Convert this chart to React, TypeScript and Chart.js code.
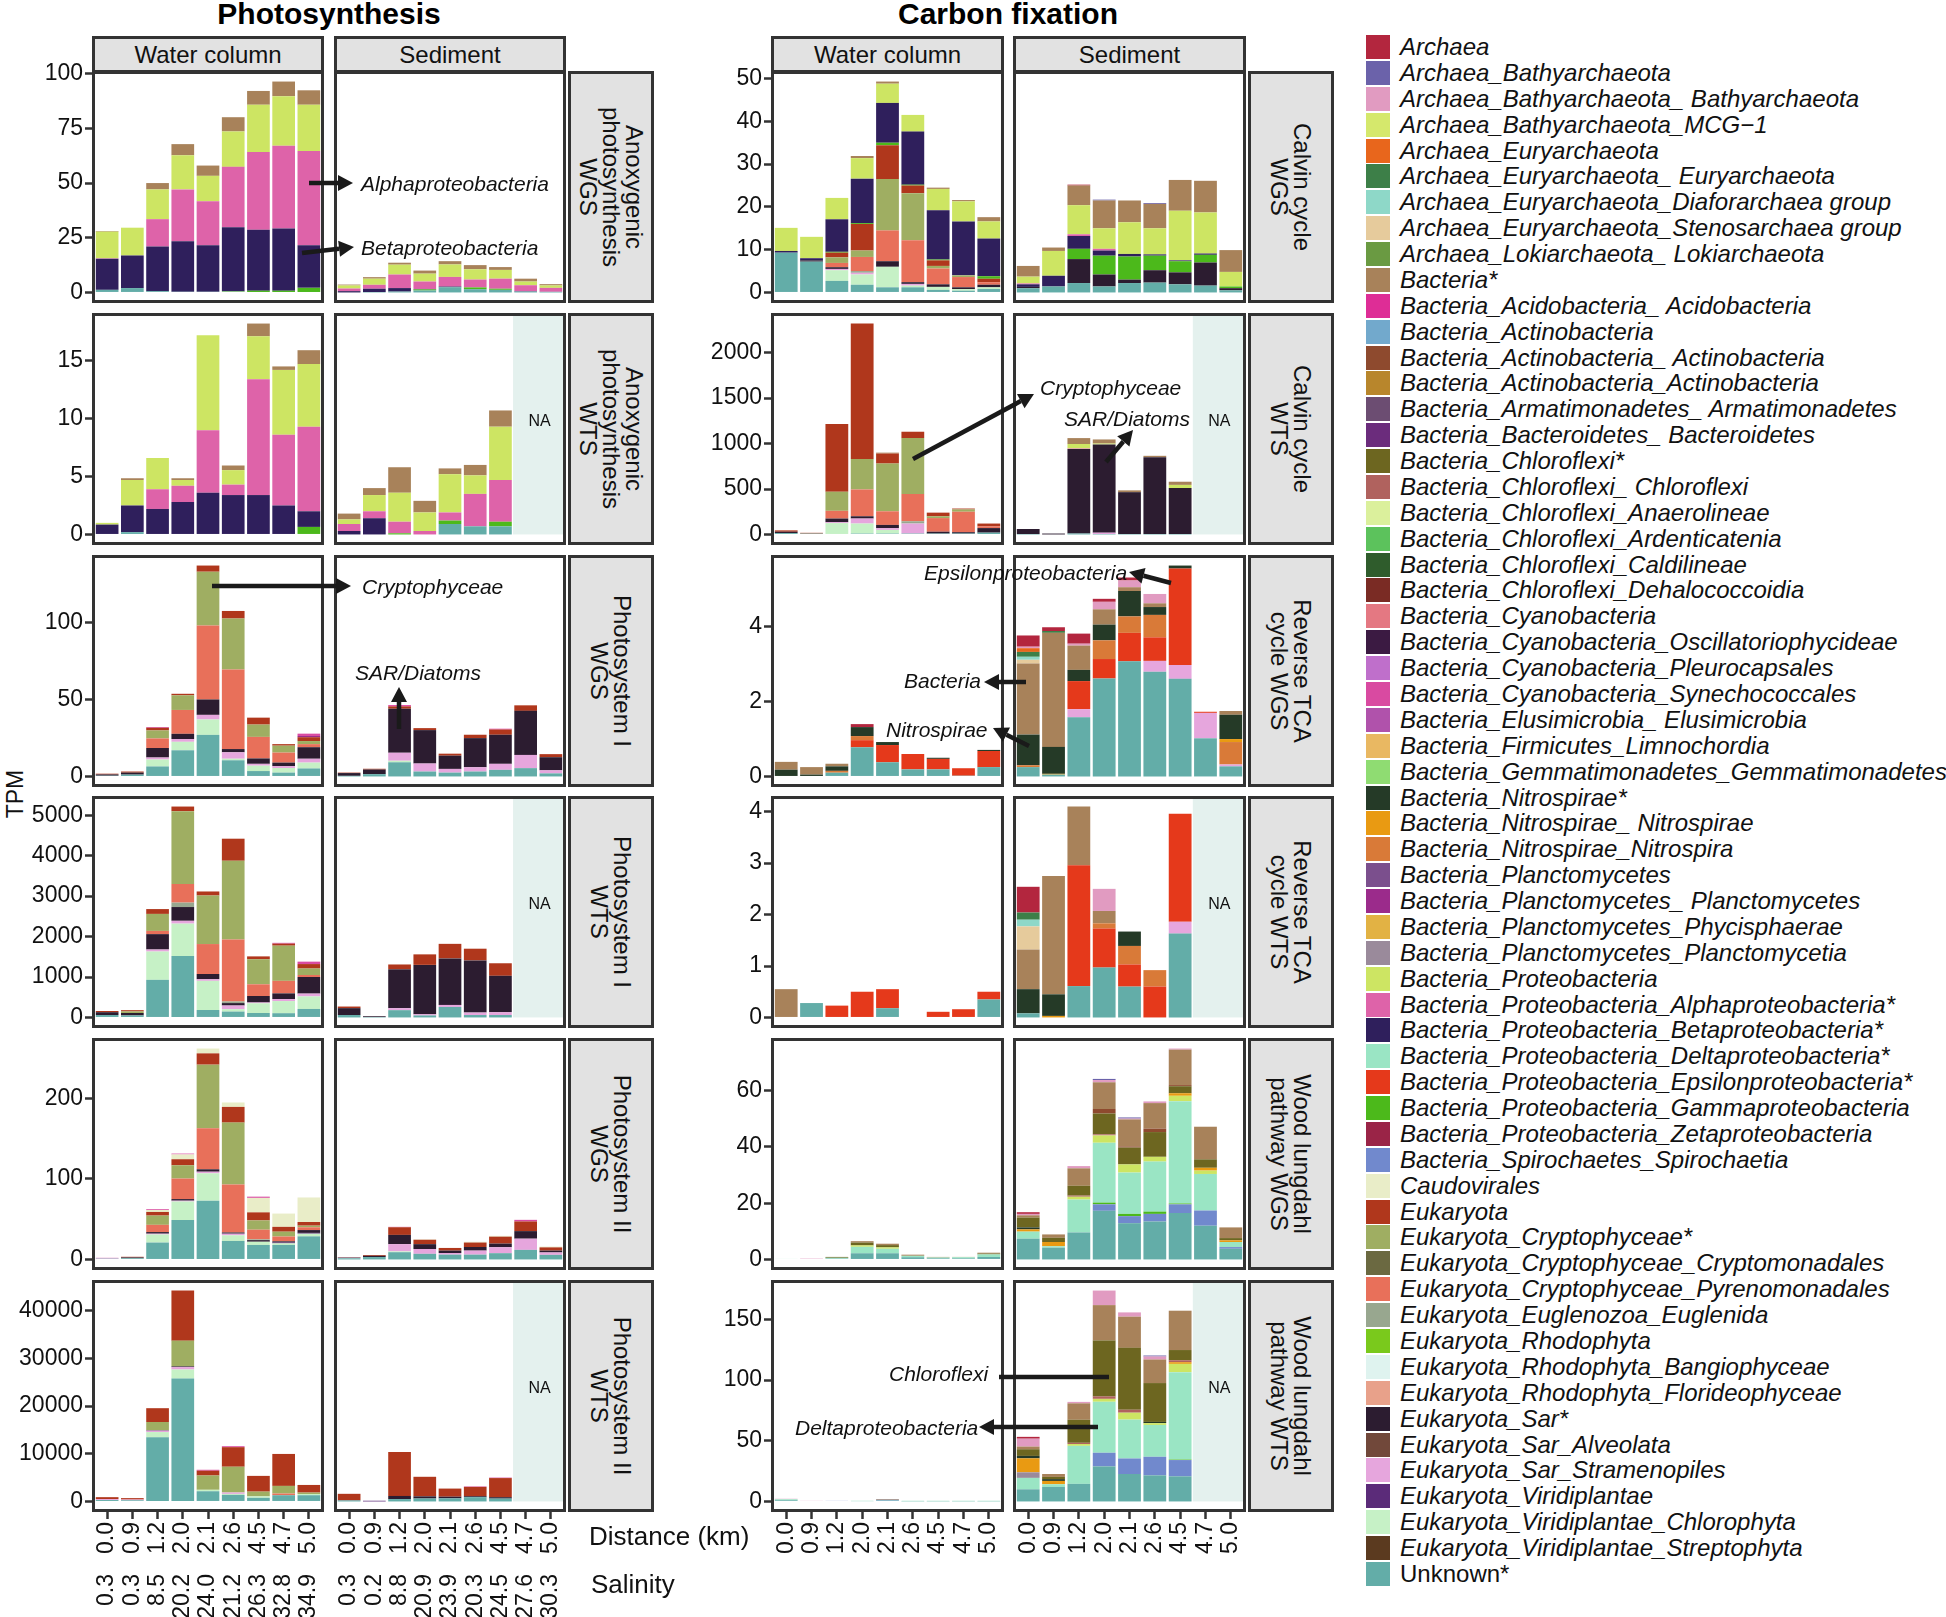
import React, { useEffect, useRef } from "react";
import { Chart, registerables } from "chart.js";

Chart.register(...registerables);

const FONT = '"Liberation Sans", Arial, Helvetica, sans-serif';
Chart.defaults.font.family = FONT;

type Series = [string, number[]];

// ---------------- categories (legend order) ----------------
const ARC = "Archaea";
const BATHY = "Archaea_Bathyarchaeota";
const BATHY2 = "Archaea_Bathyarchaeota_ Bathyarchaeota";
const MCG = "Archaea_Bathyarchaeota_MCG\u22121";
const EURY = "Archaea_Euryarchaeota";
const EURY2 = "Archaea_Euryarchaeota_ Euryarchaeota";
const DIAF = "Archaea_Euryarchaeota_Diaforarchaea group";
const STENO = "Archaea_Euryarchaeota_Stenosarchaea group";
const LOKI = "Archaea_Lokiarchaeota_ Lokiarchaeota";
const BACT = "Bacteria*";
const ACIDO = "Bacteria_Acidobacteria_ Acidobacteria";
const ACTINO = "Bacteria_Actinobacteria";
const ACTINO2 = "Bacteria_Actinobacteria_ Actinobacteria";
const ACTINO3 = "Bacteria_Actinobacteria_Actinobacteria";
const ARMA = "Bacteria_Armatimonadetes_ Armatimonadetes";
const BACTERO = "Bacteria_Bacteroidetes_ Bacteroidetes";
const CHFLX = "Bacteria_Chloroflexi*";
const CHFLX2 = "Bacteria_Chloroflexi_ Chloroflexi";
const ANAERO = "Bacteria_Chloroflexi_Anaerolineae";
const ARDENT = "Bacteria_Chloroflexi_Ardenticatenia";
const CALDI = "Bacteria_Chloroflexi_Caldilineae";
const DEHALO = "Bacteria_Chloroflexi_Dehalococcoidia";
const CYANO = "Bacteria_Cyanobacteria";
const OSCIL = "Bacteria_Cyanobacteria_Oscillatoriophycideae";
const PLEURO = "Bacteria_Cyanobacteria_Pleurocapsales";
const SYNE = "Bacteria_Cyanobacteria_Synechococcales";
const ELUSI = "Bacteria_Elusimicrobia_ Elusimicrobia";
const LIMNO = "Bacteria_Firmicutes_Limnochordia";
const GEMMA = "Bacteria_Gemmatimonadetes_Gemmatimonadetes";
const NITRO = "Bacteria_Nitrospirae*";
const NITRO2 = "Bacteria_Nitrospirae_ Nitrospirae";
const NITROSPIRA = "Bacteria_Nitrospirae_Nitrospira";
const PLANC = "Bacteria_Planctomycetes";
const PLANC2 = "Bacteria_Planctomycetes_ Planctomycetes";
const PHYCI = "Bacteria_Planctomycetes_Phycisphaerae";
const PLANCTIA = "Bacteria_Planctomycetes_Planctomycetia";
const PROT = "Bacteria_Proteobacteria";
const ALPHA = "Bacteria_Proteobacteria_Alphaproteobacteria*";
const BETA = "Bacteria_Proteobacteria_Betaproteobacteria*";
const DELTA = "Bacteria_Proteobacteria_Deltaproteobacteria*";
const EPS = "Bacteria_Proteobacteria_Epsilonproteobacteria*";
const GAMMA = "Bacteria_Proteobacteria_Gammaproteobacteria";
const ZETA = "Bacteria_Proteobacteria_Zetaproteobacteria";
const SPIRO = "Bacteria_Spirochaetes_Spirochaetia";
const CAUDO = "Caudovirales";
const EUK = "Eukaryota";
const CRYPTO = "Eukaryota_Cryptophyceae*";
const CRYPTOMON = "Eukaryota_Cryptophyceae_Cryptomonadales";
const PYRENO = "Eukaryota_Cryptophyceae_Pyrenomonadales";
const EUGL = "Eukaryota_Euglenozoa_Euglenida";
const RHODO = "Eukaryota_Rhodophyta";
const BANGIO = "Eukaryota_Rhodophyta_Bangiophyceae";
const FLORI = "Eukaryota_Rhodophyta_Florideophyceae";
const SAR = "Eukaryota_Sar*";
const ALVEO = "Eukaryota_Sar_Alveolata";
const STRAM = "Eukaryota_Sar_Stramenopiles";
const VIRID = "Eukaryota_Viridiplantae";
const CHLORO = "Eukaryota_Viridiplantae_Chlorophyta";
const STREPTO = "Eukaryota_Viridiplantae_Streptophyta";
const UNK = "Unknown*";

const CATEGORIES = [
  ARC, BATHY, BATHY2, MCG, EURY, EURY2, DIAF, STENO, LOKI, BACT, ACIDO, ACTINO, ACTINO2, ACTINO3,
  ARMA, BACTERO, CHFLX, CHFLX2, ANAERO, ARDENT, CALDI, DEHALO, CYANO, OSCIL, PLEURO, SYNE, ELUSI,
  LIMNO, GEMMA, NITRO, NITRO2, NITROSPIRA, PLANC, PLANC2, PHYCI, PLANCTIA, PROT, ALPHA, BETA, DELTA,
  EPS, GAMMA, ZETA, SPIRO, CAUDO, EUK, CRYPTO, CRYPTOMON, PYRENO, EUGL, RHODO, BANGIO, FLORI, SAR,
  ALVEO, STRAM, VIRID, CHLORO, STREPTO, UNK,
];

const COLORS = [
  "#b3263e", "#6b62aa", "#e19bc1", "#d5e86c", "#e8661c", "#3d7f48", "#8ed8c8", "#e6cb9c", "#6a9a42",
  "#a8825a", "#de2d96", "#72a9cc", "#8e4a2e", "#b8862c", "#6c4d72", "#6b2c7c", "#6d6620", "#b0625e",
  "#dbf09c", "#5cc25c", "#2f5c2c", "#7a2b24", "#e47882", "#3b1a42", "#bf6fcb", "#d94aa1", "#b052ab",
  "#e9b862", "#8fdc72", "#253a27", "#e99a12", "#d97a38", "#7b4f8d", "#9b2b8b", "#e2b244", "#9a8a9b",
  "#cde563", "#de63a9", "#2f1f5c", "#9ae5c4", "#e5391b", "#4cb91b", "#9a2447", "#7189cd", "#e9edc8",
  "#b0371c", "#9fae62", "#6b6941", "#e8705a", "#98a78f", "#7ac91c", "#dff3ef", "#e8a18a", "#2c1c30",
  "#71483a", "#e6a6dd", "#5b2b79", "#c6f1c6", "#5b3a1f", "#63ada8",
];

// ---------------- axis labels ----------------
const DISTANCE = ["0.0", "0.9", "1.2", "2.0", "2.1", "2.6", "4.5", "4.7", "5.0"];
const SALINITY_WATER = ["0.3", "0.3", "8.5", "20.2", "24.0", "21.2", "26.3", "32.8", "34.9"];
const SALINITY_SEDIMENT = ["0.3", "0.2", "8.8", "20.9", "23.9", "20.3", "24.5", "27.6", "30.3"];

const TICKS_ANOX_WGS = [0, 25, 50, 75, 100];
const TICKS_ANOX_WTS = [0, 5, 10, 15];
const TICKS_PS1_WGS = [0, 50, 100];
const TICKS_PS1_WTS = [0, 1000, 2000, 3000, 4000, 5000];
const TICKS_PS2_WGS = [0, 100, 200];
const TICKS_PS2_WTS = [0, 10000, 20000, 30000, 40000];
const TICKS_CALVIN_WGS = [0, 10, 20, 30, 40, 50];
const TICKS_CALVIN_WTS = [0, 500, 1000, 1500, 2000];
const TICKS_RTCA_WGS = [0, 2, 4];
const TICKS_RTCA_WTS = [0, 1, 2, 3, 4];
const TICKS_WL_WGS = [0, 20, 40, 60];
const TICKS_WL_WTS = [0, 50, 100, 150];

// ---------------- Photosynthesis ----------------
const anoxWgsWater: Series[] = [
  [UNK, [1.2, 2.0, 0.6, 0.3, 0.3, 0.3, 0.2, 0.2, 0.2]],
  [GAMMA, [0, 0, 0, 0, 0, 0.2, 0.6, 0.6, 1.9]],
  [BETA, [14.2, 14.9, 20.4, 23.1, 21.3, 29.3, 27.9, 28.4, 19.5]],
  [ALPHA, [0.2, 0, 12.5, 23.7, 20.1, 27.6, 35.5, 37.9, 43.1]],
  [PROT, [12.2, 12.7, 13.6, 15.6, 11.6, 16.2, 21.6, 22.6, 21.1]],
  [BACT, [0.3, 0, 2.9, 5.1, 4.7, 6.5, 6.3, 6.7, 6.6]],
];
const anoxWgsSed: Series[] = [
  [UNK, [0, 0.2, 0.4, 0.9, 2.4, 1.5, 1.2, 0.4, 0.3]],
  [GAMMA, [0, 0, 0, 0.5, 0, 0.8, 0.5, 0, 0]],
  [BETA, [0.6, 1.5, 1.6, 0.2, 0.3, 0, 0, 0.2, 0]],
  [ALPHA, [1.2, 1.8, 6.2, 3.4, 4.4, 3.6, 4.6, 2.7, 1.8]],
  [PROT, [1.4, 2.8, 4.5, 3.6, 5.7, 4.7, 4.0, 1.7, 1.1]],
  [BACT, [0.4, 0.7, 0.9, 1.4, 1.5, 1.9, 1.3, 1.3, 0.6]],
];
const anoxWtsWater: Series[] = [
  [UNK, [0, 0.2, 0, 0, 0, 0, 0, 0, 0]],
  [GAMMA, [0, 0, 0, 0, 0, 0, 0, 0, 0.65]],
  [BETA, [0.85, 2.3, 2.2, 2.8, 3.6, 3.4, 3.4, 2.5, 1.35]],
  [ALPHA, [0, 0, 1.7, 1.4, 5.4, 0.9, 10.0, 6.1, 7.3]],
  [PROT, [0.15, 2.2, 2.7, 0.5, 8.2, 1.25, 3.7, 5.6, 5.4]],
  [BACT, [0, 0.15, 0, 0.15, 0, 0.4, 1.1, 0.3, 1.2]],
];
const anoxWtsSed: Series[] = [
  [UNK, [0, 0, 0, 0, 0.9, 0.7, 0.7]],
  [GAMMA, [0, 0, 0.1, 0, 0.3, 0, 0.4]],
  [BETA, [0.3, 1.4, 0, 0, 0, 0, 0]],
  [ALPHA, [0.6, 0.6, 1.0, 0.3, 0.7, 2.8, 3.6]],
  [PROT, [0.4, 1.4, 2.5, 1.6, 3.3, 1.6, 4.6]],
  [BACT, [0.5, 0.6, 2.2, 1.0, 0.5, 0.9, 1.4]],
];
const ps1WgsWater: Series[] = [
  [UNK, [0.5, 1.2, 6.5, 17, 27, 10.5, 3.5, 2.5, 5.2]],
  [CHLORO, [0, 0, 4.5, 5.5, 10, 1, 3.5, 3, 3.8]],
  [STRAM, [0, 0, 1.3, 1.8, 3, 4.2, 1.2, 1.2, 2.5]],
  [SAR, [0.8, 1.3, 6.2, 3.4, 10, 2.1, 3.5, 2.3, 7.5]],
  [PYRENO, [0, 0, 6.2, 15.5, 48, 51.7, 14, 6.5, 2]],
  [CRYPTO, [0, 0, 5.2, 9.5, 35, 33.1, 8, 4.5, 2]],
  [EUK, [0.5, 0.7, 1.7, 1.0, 4, 4.9, 4.5, 1, 2.5]],
  [SYNE, [0, 0, 0.5, 0, 0, 0, 0, 0, 1.5]],
  [PLANC2, [0, 0, 0, 0, 0, 0, 0, 0, 0.8]],
];
const ps1WgsSed: Series[] = [
  [UNK, [0.4, 1.5, 9.2, 3.2, 2.5, 3.2, 4.3, 5.4, 2]],
  [CHLORO, [0, 0, 1, 0, 0, 0, 0, 0, 0]],
  [STRAM, [0, 0, 5.2, 5.2, 2.4, 2.8, 3.9, 8.6, 2]],
  [SAR, [1.8, 3, 28.6, 21.7, 8.6, 18.9, 18.9, 28.6, 8.5]],
  [EUK, [0.3, 0.5, 1.5, 1.3, 1.3, 2.2, 3.4, 3.6, 2]],
  [ACIDO, [0, 0, 0.8, 0, 0, 0, 0.5, 0, 0]],
];
const ps1WtsWater: Series[] = [
  [UNK, [60, 50, 930, 1520, 185, 145, 110, 105, 210]],
  [CHLORO, [0, 0, 700, 800, 720, 60, 240, 300, 310]],
  [STRAM, [0, 0, 50, 70, 40, 90, 20, 50, 70]],
  [SAR, [70, 60, 380, 340, 130, 60, 160, 140, 410]],
  [EUGL, [0, 0, 0, 110, 0, 40, 0, 0, 0]],
  [PYRENO, [0, 0, 80, 460, 740, 1530, 290, 310, 50]],
  [CRYPTO, [0, 40, 420, 1800, 1200, 1950, 620, 870, 160]],
  [EUK, [30, 30, 120, 115, 100, 545, 70, 50, 110]],
  [SYNE, [0, 0, 0, 0, 0, 0, 0, 20, 60]],
];
const ps1WtsSed: Series[] = [
  [UNK, [60, 10, 180, 50, 260, 60, 60]],
  [STRAM, [0, 0, 50, 30, 50, 60, 70]],
  [SAR, [170, 20, 960, 1220, 1150, 1290, 900]],
  [EUK, [40, 0, 120, 260, 360, 290, 310]],
];
const ps2WgsWater: Series[] = [
  [UNK, [1, 1.5, 21, 49, 73, 23, 18, 18, 28.7]],
  [CHLORO, [0, 0, 10, 23, 34, 7, 4, 2, 3.3]],
  [STRAM, [0.5, 0, 1, 1, 2, 2, 0, 0, 0]],
  [SAR, [0, 1, 2, 2, 3, 1.5, 2, 1.5, 3.5]],
  [EUGL, [0, 0, 0, 0, 0, 0, 1, 0, 0]],
  [PYRENO, [0, 0, 9, 25.5, 51, 59.5, 12, 6, 3.5]],
  [CRYPTO, [0, 0, 11.5, 16.5, 79, 77, 11.5, 6, 2]],
  [EUK, [0, 0.8, 4.5, 7.5, 14, 19.5, 10, 6, 4.5]],
  [CAUDO, [0, 0, 2.5, 6, 6, 5.5, 18, 16.5, 30.5]],
  [VIRID, [0, 0, 0, 0, 0, 0, 0, 1, 1]],
  [SYNE, [0.5, 0, 1, 1, 0, 0, 1.5, 0, 0]],
];
const ps2WgsSed: Series[] = [
  [UNK, [1.5, 3, 9, 7, 6, 6, 7.8, 11.9, 5.7]],
  [CHLORO, [0, 0, 1, 0, 0, 0, 0, 0, 0]],
  [STRAM, [0.5, 0, 9, 6, 2, 5, 7.4, 13.9, 3]],
  [SAR, [0.5, 1.5, 11.5, 6, 3, 4.5, 4.5, 9.4, 2.3]],
  [EUK, [0.4, 1, 9.5, 5.5, 3.3, 5.5, 8.6, 12, 4]],
  [CAUDO, [0, 0, 0, 0.5, 0, 1, 1, 0, 1]],
  [SYNE, [0, 0, 0.5, 0, 0, 0, 0, 2, 0]],
];
const ps2WtsWater: Series[] = [
  [UNK, [300, 250, 13450, 25760, 2140, 1380, 760, 1310, 1310]],
  [CHLORO, [0, 0, 1100, 1900, 300, 200, 300, 0, 250]],
  [STRAM, [200, 150, 300, 500, 0, 300, 0, 0, 0]],
  [SAR, [0, 0, 100, 150, 0, 0, 0, 0, 0]],
  [PYRENO, [0, 0, 0, 0, 0, 0, 0, 350, 0]],
  [CRYPTO, [0, 0, 1700, 5400, 3000, 5400, 1000, 1600, 300]],
  [EUK, [400, 300, 2900, 10500, 1000, 4100, 3300, 6700, 1600]],
  [SYNE, [0, 0, 0, 0, 200, 200, 0, 0, 0]],
];
const ps2WtsSed: Series[] = [
  [UNK, [200, 0, 500, 620, 650, 900, 600]],
  [VIRID, [0, 150, 0, 0, 0, 0, 0]],
  [SAR, [50, 0, 650, 450, 350, 200, 300]],
  [EUK, [1350, 0, 9200, 4100, 1700, 1950, 4000]],
  [SYNE, [0, 0, 0, 0, 0, 100, 100]],
];

// ---------------- Carbon fixation ----------------
const calvinWgsWater: Series[] = [
  [UNK, [9.3, 7.2, 2.7, 1.8, 1.2, 1.2, 0.6, 0.4, 0.8]],
  [CHLORO, [0, 0, 2.5, 2.4, 4.8, 0.4, 0.7, 0.4, 0.4]],
  [STRAM, [0, 0, 0.3, 0.4, 0, 0.4, 0, 0, 0]],
  [SAR, [0, 0.3, 0.4, 0, 1.3, 0.4, 0.6, 0.4, 0.6]],
  [EUGL, [0, 0, 0, 0.4, 0, 0, 0, 0, 0]],
  [PYRENO, [0, 0, 1, 3.3, 7.2, 9.8, 3.7, 2.4, 0.6]],
  [CRYPTO, [0, 0, 1.3, 1.5, 12, 11, 0.6, 0.4, 0]],
  [EUK, [0, 0, 1.1, 6.2, 7.9, 1.8, 1.3, 0, 0.8]],
  [GAMMA, [0, 0, 0.2, 0.2, 0.6, 0.2, 0.2, 0, 0.6]],
  [BETA, [0.4, 0.5, 7.6, 10.4, 9.3, 12.4, 11.5, 12.6, 8.8]],
  [PROT, [5.4, 5.0, 5, 4.8, 4.5, 3.9, 5, 4.7, 4]],
  [BACT, [0, 0, 0, 0.5, 0.5, 0, 0.3, 0.3, 1]],
];
const calvinWgsSed: Series[] = [
  [UNK, [1.0, 1.4, 2.2, 1.4, 2.2, 2.3, 1.9, 1.6, 0.5]],
  [SAR, [0.3, 0, 5.6, 2.8, 0.8, 2.9, 2.8, 5.4, 0.5]],
  [GAMMA, [0, 0, 2.4, 4.4, 5.4, 3.4, 2.6, 1.8, 0.4]],
  [BETA, [0.6, 2.5, 3.0, 1.2, 0.6, 0.3, 0.2, 0.3, 0]],
  [ALPHA, [0.2, 0, 0.4, 0.4, 0, 0, 0, 0, 0]],
  [PROT, [1.6, 5.8, 6.8, 4.8, 7.4, 6.1, 11.6, 9.6, 3.4]],
  [BACT, [2.5, 0.8, 4.6, 6.5, 5.1, 5.7, 7.2, 7.4, 5.1]],
  [BATHY, [0, 0, 0, 0.2, 0, 0.2, 0, 0, 0]],
  [ARC, [0, 0, 0.2, 0, 0, 0, 0, 0, 0]],
];
const calvinWtsWater: Series[] = [
  [UNK, [15, 10, 0, 10, 10, 10, 10, 10, 20]],
  [CHLORO, [0, 0, 125, 110, 40, 0, 0, 0, 0]],
  [STRAM, [0, 0, 10, 55, 20, 110, 0, 0, 0]],
  [SAR, [15, 0, 40, 25, 35, 0, 20, 15, 50]],
  [EUGL, [0, 0, 0, 0, 0, 25, 0, 0, 0]],
  [PYRENO, [0, 0, 85, 295, 150, 300, 150, 225, 20]],
  [CRYPTO, [0, 0, 210, 335, 525, 615, 20, 25, 0]],
  [EUK, [15, 8, 745, 1490, 110, 70, 40, 10, 30]],
  [BACT, [0, 0, 0, 0, 10, 0, 0, 0, 0]],
];
const calvinWtsSed: Series[] = [
  [UNK, [5, 0, 10, 5, 5, 5, 5]],
  [STRAM, [0, 0, 0, 15, 0, 0, 0]],
  [SAR, [55, 10, 930, 970, 460, 845, 505]],
  [ALPHA, [0, 0, 5, 0, 0, 0, 0]],
  [PROT, [0, 0, 50, 10, 0, 0, 35]],
  [BACT, [0, 0, 65, 45, 20, 15, 35]],
];
const rtcaWgsWater: Series[] = [
  [UNK, [0, 0, 0.1, 0.78, 0.38, 0.19, 0.19, 0.02, 0.25]],
  [EPS, [0, 0, 0, 0.19, 0.46, 0.41, 0.28, 0.2, 0.43]],
  [NITROSPIRA, [0, 0, 0.05, 0.11, 0, 0, 0, 0, 0]],
  [NITRO, [0.18, 0.05, 0.12, 0.24, 0.08, 0, 0.03, 0, 0.03]],
  [BACT, [0.21, 0.2, 0.07, 0, 0, 0, 0, 0, 0]],
  [ARC, [0, 0, 0, 0.08, 0, 0, 0, 0, 0]],
];
const rtcaWgsSed: Series[] = [
  [UNK, [0.25, 0.05, 1.58, 2.62, 3.08, 2.8, 2.61, 1.02, 0.27]],
  [STRAM, [0, 0, 0.22, 0, 0, 0.29, 0.37, 0.68, 0.05]],
  [EPS, [0, 0, 0.75, 0.52, 0.76, 0.63, 2.58, 0.03, 0]],
  [NITROSPIRA, [0.05, 0, 0, 0.5, 0.44, 0.6, 0, 0, 0.6]],
  [NITRO2, [0, 0.02, 0, 0, 0, 0, 0, 0, 0.08]],
  [NITRO, [0.82, 0.72, 0.3, 0.42, 0.68, 0.21, 0.08, 0, 0.65]],
  [BACT, [1.9, 3.05, 0.65, 0.41, 0.1, 0.1, 0, 0, 0.1]],
  [STENO, [0.1, 0, 0, 0, 0, 0, 0, 0, 0]],
  [DIAF, [0.08, 0, 0, 0, 0, 0, 0, 0, 0]],
  [EURY2, [0.13, 0.05, 0, 0, 0, 0, 0, 0, 0]],
  [EURY, [0.1, 0, 0, 0, 0, 0, 0, 0, 0]],
  [BATHY2, [0.04, 0, 0.05, 0.2, 0.18, 0.25, 0, 0, 0]],
  [ARC, [0.3, 0.1, 0.27, 0.08, 0.08, 0, 0, 0, 0]],
];
const rtcaWtsWater: Series[] = [
  [UNK, [0, 0.28, 0, 0, 0.18, 0.01, 0, 0, 0.35]],
  [EPS, [0, 0, 0.23, 0.5, 0.37, 0, 0.11, 0.16, 0.15]],
  [BACT, [0.55, 0, 0, 0, 0, 0, 0, 0, 0]],
];
const rtcaWtsSed: Series[] = [
  [UNK, [0.08, 0, 0.61, 0.97, 0.6, 0, 1.63]],
  [STRAM, [0, 0, 0, 0, 0, 0, 0.23]],
  [EPS, [0, 0, 2.35, 0.76, 0.43, 0.6, 2.1]],
  [NITROSPIRA, [0, 0, 0, 0.1, 0.36, 0.32, 0]],
  [NITRO2, [0, 0.03, 0, 0, 0, 0, 0]],
  [NITRO, [0.47, 0.42, 0, 0, 0.28, 0, 0]],
  [BACT, [0.77, 2.3, 1.14, 0.24, 0, 0, 0]],
  [STENO, [0.45, 0, 0, 0, 0, 0, 0]],
  [DIAF, [0.13, 0, 0, 0, 0, 0, 0]],
  [EURY2, [0.14, 0, 0, 0, 0, 0, 0]],
  [BATHY2, [0, 0, 0, 0.43, 0, 0, 0]],
  [ARC, [0.5, 0, 0, 0, 0, 0, 0]],
];
const wlWgsWater: Series[] = [
  [UNK, [0, 0, 0.3, 2.2, 2.2, 0.8, 0.4, 0.4, 0.9]],
  [DELTA, [0.2, 0, 0.3, 2.3, 1.6, 0.5, 0.3, 0.4, 0.9]],
  [PROT, [0, 0, 0, 0.5, 0.5, 0, 0, 0, 0]],
  [CHFLX, [0, 0, 0.3, 1, 0.8, 0, 0, 0, 0.3]],
  [BACT, [0, 0, 0, 0.5, 0.5, 0.4, 0.2, 0.1, 0.3]],
  [BATHY2, [0, 0.3, 0, 0, 0, 0, 0, 0, 0]],
];
const wlWgsSed: Series[] = [
  [UNK, [7.4, 4.2, 9.6, 17.3, 12.9, 13.5, 16.5, 12, 3.8]],
  [SPIRO, [0, 0, 0, 2.3, 2.5, 2.7, 3.1, 5.4, 0.6]],
  [GAMMA, [0, 0, 0, 0.6, 0.8, 0.8, 0.3, 0, 0]],
  [DELTA, [2.5, 0.5, 11.7, 21.3, 14.7, 17.8, 36.4, 13, 1.8]],
  [PROT, [0, 0, 1, 2.6, 2.9, 1.7, 1.9, 1.2, 0]],
  [NITRO2, [0.8, 1.5, 0, 0, 0, 0, 0.9, 1, 0.6]],
  [NITRO, [0.7, 0, 0, 0, 0, 0, 0, 0, 0]],
  [CHFLX2, [0, 0, 0.4, 0.4, 0, 0, 0, 0, 0]],
  [CHFLX, [3.5, 1.5, 3.5, 7.4, 6, 8.8, 2.5, 3, 0.8]],
  [ACTINO2, [0, 0, 0, 1.6, 0.4, 1.2, 0.4, 0, 0]],
  [BACT, [0.8, 1.2, 6.2, 9.5, 9.6, 9.1, 12.6, 11.6, 3.8]],
  [BATHY2, [0.5, 0, 0.8, 0.8, 0.3, 0.6, 0.4, 0, 0]],
  [BATHY, [0, 0, 0, 0.4, 0.4, 0, 0, 0, 0]],
  [ARC, [0.6, 0, 0, 0, 0, 0, 0, 0, 0]],
];
const wlWtsWater: Series[] = [
  [UNK, [1, 0, 0, 0.3, 0.8, 0.2, 0.2, 0.2, 0.2]],
  [SPIRO, [0, 0, 0.5, 0, 0.6, 0, 0, 0, 0]],
  [DELTA, [0.8, 0.4, 0, 0.2, 0, 0.3, 0.3, 0.3, 0.3]],
  [BACT, [0, 0, 0, 0, 0.6, 0, 0, 0, 0]],
  [BATHY2, [0.4, 0.1, 0, 0, 0, 0, 0, 0, 0]],
];
const wlWtsSed: Series[] = [
  [UNK, [10, 12, 14.5, 28.9, 22.6, 21.5, 20.7]],
  [SPIRO, [0, 0, 0, 11.2, 12.8, 15.3, 13.4]],
  [GAMMA, [0, 0, 0, 0, 0, 0, 0.4]],
  [DELTA, [9.4, 2.2, 31.3, 42, 32, 26.2, 72]],
  [PROT, [0, 0, 1.5, 2.4, 5.7, 1.5, 6.8]],
  [PLANCTIA, [4.6, 0, 0, 0, 0, 0, 0]],
  [NITRO2, [11.5, 2.7, 0, 0, 0, 0, 1.4]],
  [NITRO, [2.0, 1.5, 0, 0, 0, 1, 0]],
  [CHFLX2, [0, 0, 1, 2, 2.4, 0, 1.6]],
  [CHFLX, [5.5, 1.8, 19, 46, 51, 32, 8.4]],
  [BACT, [2.2, 2.4, 13.5, 29.2, 25.7, 19.4, 32.4]],
  [BATHY2, [6.5, 0, 1.2, 12, 3.5, 2.5, 0]],
  [BATHY, [0, 0, 0, 0, 0, 0.8, 0]],
  [ARC, [1.5, 0, 0, 0, 0, 0, 0]],
];

// ---------------- layout ----------------
const ROW_TOPS = [71, 313, 555, 796, 1038, 1280];
const ROW_H = 232;
const MARGIN_TOP = 16;
const X_AXIS_H = 55;
const X2_AXIS_H = 51;
const BORDER = "#333333";
const STRIP_BG = "#e2e2e2";

type Row = { label: string[]; water: Series[]; sed: Series[]; ticks: number[]; na: boolean };
type Group = {
  title: string; titleX: number; waterX: number; sedX: number; panelW: number; stripX: number;
  axisW: number; salinity: boolean; rows: Row[];
};

const GROUPS: Group[] = [
  {
    title: "Photosynthesis", titleX: 329, waterX: 92, sedX: 334, panelW: 232, stripX: 568, axisW: 80, salinity: true,
    rows: [
      { label: ["Anoxygenic", "photosynthesis", "WGS"], water: anoxWgsWater, sed: anoxWgsSed, ticks: TICKS_ANOX_WGS, na: false },
      { label: ["Anoxygenic", "photosynthesis", "WTS"], water: anoxWtsWater, sed: anoxWtsSed, ticks: TICKS_ANOX_WTS, na: true },
      { label: ["Photosystem I", "WGS"], water: ps1WgsWater, sed: ps1WgsSed, ticks: TICKS_PS1_WGS, na: false },
      { label: ["Photosystem I", "WTS"], water: ps1WtsWater, sed: ps1WtsSed, ticks: TICKS_PS1_WTS, na: true },
      { label: ["Photosystem II", "WGS"], water: ps2WgsWater, sed: ps2WgsSed, ticks: TICKS_PS2_WGS, na: false },
      { label: ["Photosystem II", "WTS"], water: ps2WtsWater, sed: ps2WtsSed, ticks: TICKS_PS2_WTS, na: true },
    ],
  },
  {
    title: "Carbon fixation", titleX: 1008, waterX: 771, sedX: 1013, panelW: 233, stripX: 1248, axisW: 80, salinity: false,
    rows: [
      { label: ["Calvin cycle", "WGS"], water: calvinWgsWater, sed: calvinWgsSed, ticks: TICKS_CALVIN_WGS, na: false },
      { label: ["Calvin cycle", "WTS"], water: calvinWtsWater, sed: calvinWtsSed, ticks: TICKS_CALVIN_WTS, na: true },
      { label: ["Reverse TCA", "cycle WGS"], water: rtcaWgsWater, sed: rtcaWgsSed, ticks: TICKS_RTCA_WGS, na: false },
      { label: ["Reverse TCA", "cycle WTS"], water: rtcaWtsWater, sed: rtcaWtsSed, ticks: TICKS_RTCA_WTS, na: true },
      { label: ["Wood lungdahl", "pathway WGS"], water: wlWgsWater, sed: wlWgsSed, ticks: TICKS_WL_WGS, na: false },
      { label: ["Wood lungdahl", "pathway WTS"], water: wlWtsWater, sed: wlWtsSed, ticks: TICKS_WL_WTS, na: true },
    ],
  },
];

type Ann = { x1: number; y1: number; x2: number; y2: number; head: boolean; text: string; tx: number; ty: number };
const ANNOTATIONS: Ann[] = [
  { x1: 309, y1: 183, x2: 353, y2: 183, head: true, text: "Alphaproteobacteria", tx: 361, ty: 183 },
  { x1: 302, y1: 253, x2: 354, y2: 247, head: true, text: "Betaproteobacteria", tx: 361, ty: 247 },
  { x1: 212, y1: 586, x2: 351, y2: 586, head: true, text: "Cryptophyceae", tx: 362, ty: 586 },
  { x1: 399, y1: 729, x2: 399, y2: 687, head: true, text: "SAR/Diatoms", tx: 355, ty: 672 },
  { x1: 913, y1: 459, x2: 1034, y2: 394, head: true, text: "Cryptophyceae", tx: 1040, ty: 387 },
  { x1: 1106, y1: 462, x2: 1133, y2: 430, head: true, text: "SAR/Diatoms", tx: 1064, ty: 418 },
  { x1: 1171, y1: 583, x2: 1129, y2: 572, head: true, text: "Epsilonproteobacteria", tx: 924, ty: 572 },
  { x1: 1026, y1: 682, x2: 984, y2: 682, head: true, text: "Bacteria", tx: 904, ty: 680 },
  { x1: 1029, y1: 746, x2: 993, y2: 728, head: true, text: "Nitrospirae", tx: 886, ty: 729 },
  { x1: 999, y1: 1377, x2: 1109, y2: 1377, head: false, text: "Chloroflexi", tx: 889, ty: 1373 },
  { x1: 1098, y1: 1427, x2: 979, y2: 1427, head: true, text: "Deltaproteobacteria", tx: 795, ty: 1427 },
];

function stackMax(series: Series[]): number {
  let m = 0;
  for (let i = 0; i < 9; i++) {
    let s = 0;
    for (const [, v] of series) s += v[i] || 0;
    m = Math.max(m, s);
  }
  return m;
}

type PanelProps = {
  left: number; top: number; width: number; height: number; series: Series[];
  yMin: number; yMax: number; yTicks: number[] | null; axisW: number;
  xLabels: string[] | null; x2Labels: string[] | null; na: boolean;
};

function Panel(p: PanelProps) {
  const ref = useRef<HTMLCanvasElement>(null);
  const showY = !!p.yTicks;
  const showX = !!p.xLabels;
  const cLeft = p.left - (showY ? p.axisW : 0);
  const cW = p.width + (showY ? p.axisW : 0);
  const cTop = p.top - MARGIN_TOP;
  const cH = MARGIN_TOP + p.height + (showX ? X_AXIS_H : 0) + (p.x2Labels ? X2_AXIS_H : 0);

  useEffect(() => {
    const canvas = ref.current;
    if (!canvas) return;
    const ordered = [...p.series].sort((a, b) => CATEGORIES.indexOf(b[0]) - CATEGORIES.indexOf(a[0]));
    const datasets = ordered.map(([name, vals]) => ({
      label: name,
      data: vals.map((v, i) => ({ x: i, y: v })).filter((d) => d.y > 0),
      backgroundColor: COLORS[CATEGORIES.indexOf(name)],
      borderWidth: 0,
      barPercentage: 0.9,
      categoryPercentage: 1.0,
    }));
    const idxTicks = () => DISTANCE.map((_, i) => ({ value: i }));
    const tickFont = { family: FONT, size: 23 };
    const scales: any = {
      x: {
        type: "linear", min: -0.6, max: 8.6, stacked: true, offset: false, display: showX,
        afterBuildTicks: (ax: any) => { ax.ticks = idxTicks(); },
        afterFit: (ax: any) => {
          ax.paddingLeft = 0; ax.paddingRight = 0;
          ax.height = showX ? X_AXIS_H : 0;
        },
        grid: { offset: false, drawOnChartArea: false, drawTicks: true, tickLength: 7, tickColor: BORDER, tickWidth: 2.5 },
        border: { display: false },
        ticks: {
          autoSkip: false, minRotation: 90, maxRotation: 90, padding: 3, color: "#111", font: tickFont,
          callback: (_v: any, i: number) => (p.xLabels ? p.xLabels[i] : ""),
        },
      },
      y: {
        type: "linear", min: p.yMin, max: p.yMax, stacked: true, display: showY,
        afterBuildTicks: (ax: any) => { if (p.yTicks) ax.ticks = p.yTicks.map((v) => ({ value: v })); },
        afterFit: (ax: any) => {
          ax.paddingTop = 0; ax.paddingBottom = 0;
          ax.width = showY ? p.axisW : 0;
        },
        grid: { drawOnChartArea: false, drawTicks: true, tickLength: 7, tickColor: BORDER, tickWidth: 2.5 },
        border: { display: false },
        ticks: { padding: 2, color: "#111", font: tickFont, callback: (v: any) => String(v) },
      },
    };
    if (p.x2Labels) {
      scales.x2 = {
        type: "linear", position: "bottom", axis: "x", min: -0.6, max: 8.6, weight: 1, display: true, offset: false,
        afterBuildTicks: (ax: any) => { ax.ticks = idxTicks(); },
        afterFit: (ax: any) => { ax.height = X2_AXIS_H; ax.paddingLeft = 0; ax.paddingRight = 0; },
        grid: { display: false, drawTicks: false, drawOnChartArea: false, offset: false },
        border: { display: false },
        ticks: {
          autoSkip: false, minRotation: 90, maxRotation: 90, padding: 7, color: "#111", font: tickFont,
          callback: (_v: any, i: number) => (p.x2Labels ? p.x2Labels[i] : ""),
        },
      };
    }
    const naPlugin = {
      id: "naRegion",
      beforeDatasetsDraw(chart: any) {
        if (!p.na) return;
        const { ctx, chartArea, scales: sc } = chart;
        const x0 = sc.x.getPixelForValue(6.5);
        const y0 = sc.y.getPixelForValue(0);
        ctx.save();
        ctx.fillStyle = "#e4f1ee";
        ctx.fillRect(x0, chartArea.top, chartArea.right - x0, y0 - chartArea.top);
        ctx.restore();
      },
    };
    const chart = new Chart(canvas, {
      type: "bar",
      data: { datasets: datasets as any },
      options: {
        responsive: false,
        maintainAspectRatio: false,
        animation: false,
        devicePixelRatio: 1,
        events: [],
        layout: { padding: { top: MARGIN_TOP, left: 0, right: 0, bottom: 0 }, autoPadding: false } as any,
        plugins: { legend: { display: false }, tooltip: { enabled: false }, title: { display: false } },
        scales,
      },
      plugins: [naPlugin],
    });
    return () => chart.destroy();
  }, []);

  return (
    <canvas
      ref={ref}
      width={cW}
      height={cH}
      style={{ position: "absolute", left: cLeft, top: cTop, width: cW, height: cH, zIndex: 1 }}
    />
  );
}

function Arrow({ a }: { a: Ann }) {
  const dx = a.x2 - a.x1;
  const dy = a.y2 - a.y1;
  const len = Math.hypot(dx, dy);
  const ux = dx / len;
  const uy = dy / len;
  const L = 15;
  const W = 8;
  const bx = a.x2 - ux * L;
  const by = a.y2 - uy * L;
  const pts = `${a.x2},${a.y2} ${bx - uy * W},${by + ux * W} ${bx + uy * W},${by - ux * W}`;
  return (
    <g>
      <line x1={a.x1} y1={a.y1} x2={a.head ? bx : a.x2} y2={a.head ? by : a.y2} stroke="#1a1a1a" strokeWidth={4.5} />
      {a.head && <polygon points={pts} fill="#1a1a1a" />}
      <text x={a.tx} y={a.ty} dominantBaseline="central" fontStyle="italic" fontSize={21} fontFamily={FONT} fill="#111">
        {a.text}
      </text>
    </g>
  );
}

export default function App() {
  const items: React.ReactNode[] = [];

  GROUPS.forEach((g, gi) => {
    items.push(
      <div key={`title${gi}`} style={{
        position: "absolute", left: g.titleX - 200, top: -1, width: 400, textAlign: "center",
        fontSize: 30, lineHeight: "30px", fontWeight: "bold", fontFamily: FONT, color: "#000",
      }}>{g.title}</div>
    );
    [["Water column", g.waterX], ["Sediment", g.sedX]].forEach(([txt, x], si) => {
      items.push(
        <div key={`cs${gi}_${si}`} style={{
          position: "absolute", left: x as number, top: 36, width: g.panelW, height: 37, boxSizing: "border-box",
          border: `3px solid ${BORDER}`, background: STRIP_BG, zIndex: 2, display: "flex", alignItems: "center",
          justifyContent: "center", fontSize: 24, fontFamily: FONT, color: "#111",
        }}>{txt as string}</div>
      );
    });

    g.rows.forEach((r, ri) => {
      const top = ROW_TOPS[ri];
      const rowMax = Math.max(stackMax(r.water), stackMax(r.sed));
      const yMin = -0.05 * rowMax;
      const yMax = 1.05 * rowMax;
      const bottom = ri === g.rows.length - 1;
      items.push(
        <Panel key={`pw${gi}_${ri}`} left={g.waterX} top={top} width={g.panelW} height={ROW_H} series={r.water}
          yMin={yMin} yMax={yMax} yTicks={r.ticks} axisW={g.axisW}
          xLabels={bottom ? DISTANCE : null} x2Labels={bottom && g.salinity ? SALINITY_WATER : null} na={false} />
      );
      items.push(
        <Panel key={`ps${gi}_${ri}`} left={g.sedX} top={top} width={g.panelW} height={ROW_H} series={r.sed}
          yMin={yMin} yMax={yMax} yTicks={null} axisW={0}
          xLabels={bottom ? DISTANCE : null} x2Labels={bottom && g.salinity ? SALINITY_SEDIMENT : null} na={r.na} />
      );
      [g.waterX, g.sedX].forEach((x, k) => {
        items.push(
          <div key={`pb${gi}_${ri}_${k}`} style={{
            position: "absolute", left: x, top, width: g.panelW, height: ROW_H, boxSizing: "border-box",
            border: `3px solid ${BORDER}`, zIndex: 2, pointerEvents: "none",
          }} />
        );
      });
      if (r.na) {
        const unit = g.panelW / 9.2;
        const x0 = g.sedX + (6.5 + 0.6) * unit;
        const cx = (x0 + g.sedX + g.panelW) / 2;
        items.push(
          <div key={`na${gi}_${ri}`} style={{
            position: "absolute", left: cx - 30, top: top + 98, width: 60, textAlign: "center",
            fontSize: 16, lineHeight: "20px", fontFamily: FONT, color: "#111", zIndex: 3,
          }}>NA</div>
        );
      }
      items.push(
        <div key={`rs${gi}_${ri}`} style={{
          position: "absolute", left: g.stripX, top, width: 86, height: ROW_H, boxSizing: "border-box",
          border: `3px solid ${BORDER}`, background: STRIP_BG, zIndex: 2,
        }}>
          <div style={{
            position: "absolute", left: "50%", top: "50%", width: ROW_H, transform: "translate(-50%, -50%) rotate(90deg)",
            textAlign: "center", fontSize: 24, lineHeight: "23px", fontFamily: FONT, color: "#111", whiteSpace: "nowrap",
          }}>
            {r.label.map((l, k) => <div key={k}>{l}</div>)}
          </div>
        </div>
      );
    });
  });

  items.push(
    <div key="tpm" style={{
      position: "absolute", left: 15 - 40, top: 794 - 13, width: 80, height: 26, textAlign: "center",
      transform: "rotate(-90deg)", fontSize: 23, lineHeight: "26px", fontFamily: FONT, color: "#111",
    }}>TPM</div>
  );
  items.push(
    <div key="dist" style={{
      position: "absolute", left: 589, top: 1536 - 15, fontSize: 26, lineHeight: "30px", fontFamily: FONT,
      color: "#111", whiteSpace: "nowrap", zIndex: 3,
    }}>Distance (km)</div>
  );
  items.push(
    <div key="sal" style={{
      position: "absolute", left: 591, top: 1584 - 15, fontSize: 26, lineHeight: "30px", fontFamily: FONT,
      color: "#111", whiteSpace: "nowrap", zIndex: 3,
    }}>Salinity</div>
  );

  CATEGORIES.forEach((c, i) => {
    const yc = 47 + i * 25.88;
    items.push(
      <div key={`lg${i}`} style={{
        position: "absolute", left: 1366, top: yc - 12, width: 24, height: 24, background: COLORS[i],
      }} />
    );
    items.push(
      <div key={`lt${i}`} style={{
        position: "absolute", left: 1400, top: yc - 14, height: 28, lineHeight: "28px", fontSize: 24,
        fontFamily: FONT, fontStyle: c === UNK ? "normal" : "italic", color: "#111", whiteSpace: "nowrap",
      }}>{c}</div>
    );
  });

  return (
    <div style={{
      position: "absolute", left: 0, top: 0, width: 1946, height: 1617, overflow: "hidden", background: "#fff",
      fontFamily: FONT,
    }}>
      {items}
      <svg width={1946} height={1617} style={{ position: "absolute", left: 0, top: 0, zIndex: 4, pointerEvents: "none" }}>
        {ANNOTATIONS.map((a, i) => <Arrow key={i} a={a} />)}
      </svg>
    </div>
  );
}
